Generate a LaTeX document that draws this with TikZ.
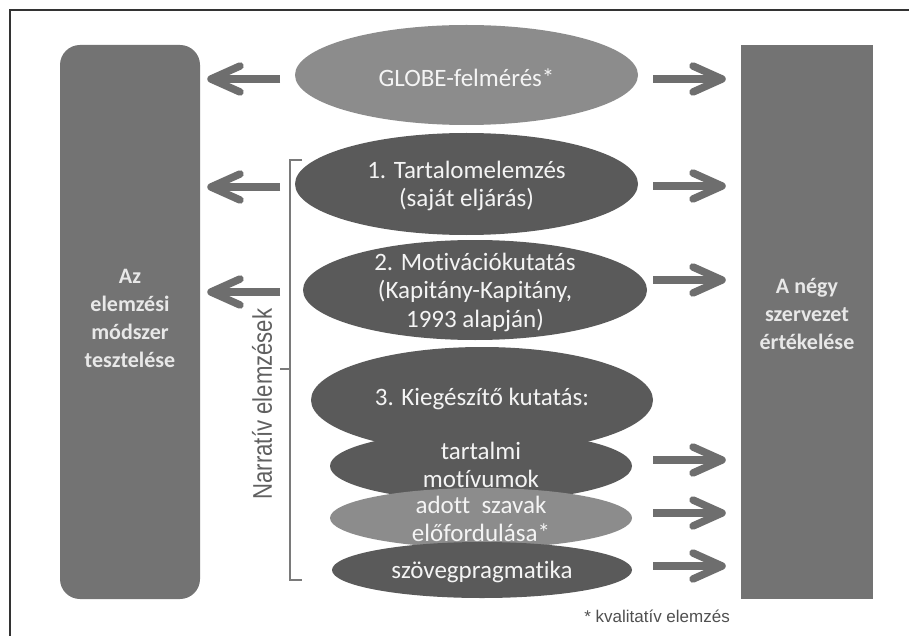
\documentclass[tikz,border=0pt]{standalone}
\usepackage{fontspec}
\setmainfont{Carlito}[Ligatures=NoCommon]
\newfontfamily\arialf{Liberation Sans}
\newfontfamily\narrowf{Liberation Sans}[FakeStretch=0.82]
\usetikzlibrary{shapes.geometric}
\definecolor{rectgray}{HTML}{737373}
\definecolor{darkell}{HTML}{5A5A5A}
\definecolor{lightell}{HTML}{8C8C8C}
\definecolor{arrowgray}{HTML}{6E6E6E}
\definecolor{brackgray}{HTML}{7A7A7A}
\definecolor{txtlight}{HTML}{F4F4F4}
\definecolor{boxtxt}{HTML}{E8E8E8}
\definecolor{sidetxt}{HTML}{606060}
\definecolor{foottxt}{HTML}{505050}
\begin{document}
\begin{tikzpicture}[x=1pt,y=-1pt,
  ellbase/.style={ellipse, inner sep=0pt},
  darkE/.style={ellbase, fill=darkell},
  lightE/.style={ellbase, fill=lightell},
  elltxt/.style={text=txtlight, align=center, inner sep=0pt, font=\fontsize{25}{28.5}\selectfont},
  sidebox/.style={fill=rectgray, inner sep=0pt, minimum height=554pt},
  boxtext/.style={text=boxtxt, align=center, inner sep=0pt, font=\fontsize{22}{28}\selectfont\bfseries},
  shaft/.style={draw=arrowgray, line width=7.5pt},
  chev/.style={draw=arrowgray, line width=7.5pt, line cap=round, line join=round},
  brack/.style={draw=brackgray, line width=2pt},
]
\useasboundingbox (0,0) rectangle (909,636);
\fill[white] (0,0) rectangle (909,636);
% frame
\draw[line width=2pt, draw=black!80] (909,10) -- (10,10) -- (10,636);

% side boxes
\node[sidebox, rounded corners=20pt, minimum width=140pt] (L) at (130,322) {};
\node[boxtext] (Lt) at (130,318) {Az\\elemzési\\módszer\\tesztelése};
\node[sidebox, minimum width=132pt] (R) at (807,322) {};
\node[boxtext] (Rt) at (807,314) {A négy\\szervezet\\értékelése};

% ellipses
\node[lightE, minimum width=343pt, minimum height=100pt] (G) at (466.5,75) {};
\node[elltxt] (Gt) at (466.5,78) {GLOBE-felmérés*};
\node[darkE, minimum width=343pt, minimum height=102pt] (E1) at (466.5,184) {};
\node[elltxt] (E1t) at (466.5,186) {1. Tartalomelemzés\\(saját eljárás)};
\node[darkE, minimum width=344pt, minimum height=100pt] (E2) at (475,290) {};
\node[elltxt] (E2t) at (475,292) {2. Motivációkutatás\\(Kapitány-Kapitány,\\1993 alapján)};
\node[darkE, minimum width=342pt, minimum height=106pt] (E3) at (482,400) {};
\node[elltxt] (E3t) at (482,399) {3. Kiegészítő kutatás:};
\node[darkE, minimum width=302pt, minimum height=70pt] (T) at (481,466) {};
\node[elltxt] (Tt) at (481,465) {tartalmi\\motívumok};
\node[lightE, minimum width=302pt, minimum height=60pt] (A) at (481,518) {};
\node[elltxt] (At) at (481,519) {adott\ \ szavak\\előfordulása*};
\node[darkE, minimum width=300pt, minimum height=56pt] (S) at (482,570) {};
\node[elltxt] (St) at (482,572) {szövegpragmatika};

% bracket
\coordinate (b1) at (302,160);
\coordinate (b2) at (290,160);
\coordinate (b3) at (290,580);
\coordinate (b4) at (302,580);
\coordinate (bm) at (290,369);
\coordinate (bt) at (280,369);
\draw[brack] (b1) -- (b2) -- (b3) -- (b4);
\draw[brack] (bm) -- (bt);
\node[rotate=90, inner sep=0pt, text=sidetxt, font=\narrowf\fontsize{27}{30}\selectfont] (N) at (262,404) {Narratív elemzések};

% left arrows
\foreach \n/\y in {1/79,2/187,3/292}{
  \coordinate (ls\n) at (280,\y);
  \coordinate (le\n) at (211,\y);
  \draw[shaft] (ls\n) -- (le\n);
  \draw[chev] ([shift={(29,-13)}]le\n) -- (le\n) -- ([shift={(29,13)}]le\n);
}
% right arrows
\foreach \n/\y in {1/79,2/186,3/280,4/460,5/513,6/566}{
  \coordinate (rs\n) at (653,\y);
  \coordinate (re\n) at (722,\y);
  \draw[shaft] (rs\n) -- (re\n);
  \draw[chev] ([shift={(-29,-13)}]re\n) -- (re\n) -- ([shift={(-29,13)}]re\n);
}

% footnote
\node[anchor=base east, inner sep=0pt, text=foottxt, font=\arialf\fontsize{17}{20}\selectfont] (F) at (730,622) {* kvalitatív elemzés};
\end{tikzpicture}
\end{document}
